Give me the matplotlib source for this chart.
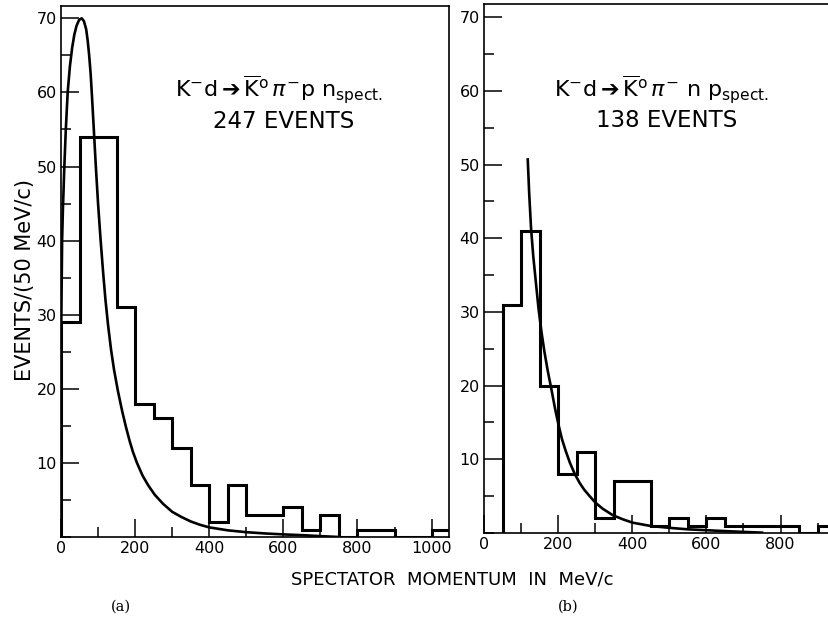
import numpy as np
import matplotlib
matplotlib.use("Agg")
import matplotlib.pyplot as plt
from matplotlib.ticker import MultipleLocator

# --- datos ---
# (a) K-d -> K0bar pi- p n_spect, 247 eventos, bins de 50 MeV/c desde 0
bordes_a = list(range(0, 1051, 50))
cuentas_a = [29, 54, 54, 31, 18, 16, 12, 7, 2, 7, 3, 3, 4, 1, 3, 0, 1, 1, 0, 0, 1]

# curva teorica (a)
curva_a_x = [0, 0.5, 1, 2, 3, 5, 7, 9, 13, 18, 24, 30, 36, 42, 49, 56, 62, 68,
             72, 76, 80, 83, 88, 94, 100, 107, 114, 120, 127, 135, 143, 154,
             165, 175, 185, 194, 205, 220, 235, 253, 275, 300, 325, 350, 375,
             400, 450, 500, 550, 600, 650, 700, 750]
curva_a_y = [20, 25, 30, 35, 40, 44, 47, 50, 55, 60, 63.5, 66, 67.8, 69, 69.8,
             70, 69.6, 68.5, 67, 65, 62.5, 60, 55.5, 50, 45, 40, 35.5, 32,
             28.6, 25.3, 22.6, 19.6, 17.0, 14.9, 13.0, 11.5, 10.0, 8.3, 7.0,
             5.7, 4.5, 3.4, 2.7, 2.1, 1.65, 1.3, 0.9, 0.65, 0.48, 0.35, 0.25,
             0.12, 0.0]

# (b) K-d -> K0bar pi- n p_spect, 138 eventos, bins de 50 MeV/c desde 50
bordes_b = list(range(50, 951, 50))
cuentas_b = [31, 41, 20, 8, 11, 2, 7, 7, 1, 2, 1, 2, 1, 1, 1, 1, 0, 1]

# curva teorica (b)
curva_b_x = [118, 122, 127, 133, 140, 147, 155, 163, 172, 183, 192, 201, 210,
             220, 232, 245, 258, 270, 285, 301, 320, 348, 375, 401, 450, 500,
             550, 632, 700, 750]
curva_b_y = [50.7, 46, 41.3, 37.5, 34, 30.5, 27.3, 24.6, 22, 19.2, 16.8, 14.7,
             12.8, 11.2, 9.5, 8.0, 6.8, 5.9, 5.0, 4.1, 3.3, 2.4, 1.85, 1.4,
             0.95, 0.7, 0.5, 0.3, 0.15, 0.05]

W, H = 829, 620
fig = plt.figure(figsize=(W / 100, H / 100), dpi=100)
plt.rcParams['mathtext.fontset'] = 'dejavusans'

# ejes en pixeles del original
ax1 = fig.add_axes([61 / W, 1 - 537 / H, 388 / W, 531 / H])
ax2 = fig.add_axes([484 / W, 1 - 533 / H, 370.7 / W, 529 / H])


def estilo(ax, xmax, ymax, xticks):
    ax.set_xlim(0, xmax)
    ax.set_ylim(0, ymax)
    ax.xaxis.set_major_locator(MultipleLocator(200))
    ax.xaxis.set_minor_locator(MultipleLocator(100))
    ax.yaxis.set_major_locator(MultipleLocator(10))
    ax.yaxis.set_minor_locator(MultipleLocator(5))
    ax.set_xticks(xticks)
    ax.set_xticklabels([str(t) for t in xticks])
    ax.set_yticks(range(10, 71, 10))
    ax.set_yticklabels([str(t) for t in range(10, 71, 10)])
    ax.tick_params(which='major', direction='in', length=13, width=1.1,
                   labelsize=11.5, pad=3)
    ax.tick_params(which='minor', direction='in', length=7, width=1.1)
    for s in ax.spines.values():
        s.set_linewidth(1.2)


estilo(ax1, 1047, 71.66, [0, 200, 400, 600, 800, 1000])
estilo(ax2, 1000, 71.8, [0, 200, 400, 600, 800])

ax1.stairs(cuentas_a, bordes_a, color='black', lw=2.2, baseline=0)
ax1.plot(curva_a_x, curva_a_y, color='black', lw=1.9)

ax2.stairs(cuentas_b, bordes_b, color='black', lw=2.2, baseline=0)
ax2.plot(curva_b_x, curva_b_y, color='black', lw=1.9)

# textos de reaccion
reac_a = r'K$^{-}$d$\,$' + '\u2794' + r'$\,\overline{\mathrm{K}}^{\mathrm{o}}\,\pi^{-}$p n$_{\mathrm{spect.}}$'
reac_b = r'K$^{-}$d$\,$' + '\u2794' + r'$\,\overline{\mathrm{K}}^{\mathrm{o}}\,\pi^{-}$ n p$_{\mathrm{spect.}}$'
fig.text(279 / W, 1 - 90 / H, reac_a, ha='center', va='center', fontsize=16)
fig.text(284 / W, 1 - 122 / H, '247 EVENTS', ha='center', va='center', fontsize=16.5)
fig.text(662 / W, 1 - 90 / H, reac_b, ha='center', va='center', fontsize=16)
fig.text(667 / W, 1 - 120 / H, '138 EVENTS', ha='center', va='center', fontsize=16.5)

fig.text(25 / W, 1 - 280 / H, 'EVENTS/(50 MeV/c)', rotation=90,
         ha='center', va='center', fontsize=15)
fig.text(452 / W, 1 - 580 / H, 'SPECTATOR  MOMENTUM  IN  MeV/c',
         ha='center', va='center', fontsize=13)
fig.text(121 / W, 1 - 607 / H, '(a)', ha='center', va='center',
         fontsize=10.5, family='DejaVu Serif')
fig.text(568 / W, 1 - 607 / H, '(b)', ha='center', va='center',
         fontsize=10.5, family='DejaVu Serif')

plt.savefig('out.png', dpi=100)
